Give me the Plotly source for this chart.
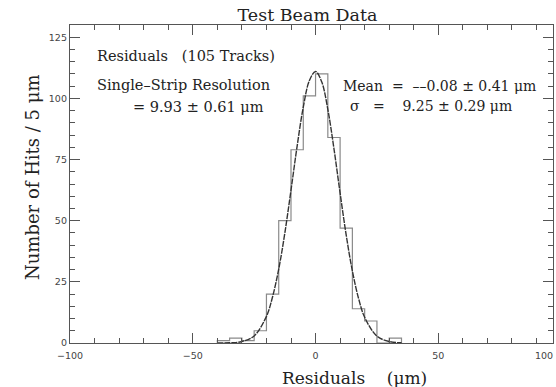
import plotly.graph_objects as go

# Histogram: 5 um bins, left edges
bin_left = [-40, -35, -30, -25, -20, -15, -10, -5, 0, 5, 10, 15, 20, 25, 30]
counts   = [1, 2, 1, 5, 20, 50, 79, 101, 110, 84, 47, 14, 9, 0, 2]
bin_width = 5

# Gaussian fit curve
fit_x = [-40, -35, -30, -25, -20, -17.5, -15, -12.5, -10, -7.5, -5, -2.5, 0,
         2.5, 5, 7.5, 10, 12.5, 15, 17.5, 20, 25, 30, 35]
fit_y = [0.0, 0.1, 0.6, 2.9, 10.9, 18.9, 30.2, 45.0, 62.5, 80.5, 96.4, 107.3, 111.0,
         106.8, 95.5, 79.4, 61.3, 44.0, 29.4, 18.3, 10.5, 2.8, 0.6, 0.1]

x_ticks = [-100, -50, 0, 50]
y_ticks = [0, 25, 50, 75, 100, 125]

step_x = [bin_left[0]] + bin_left + [bin_left[-1] + bin_width]
step_y = [0] + counts + [0]

fig = go.Figure()
fig.add_trace(go.Scatter(x=step_x, y=step_y, mode="lines", line_shape="hv",
                         line=dict(color="#8a8a8a", width=1.2), showlegend=False))
fig.add_trace(go.Scatter(x=fit_x, y=fit_y, mode="lines", line_shape="spline",
                         line=dict(color="#333333", width=1.4, dash="6px,1px"),
                         showlegend=False))

serif = "DejaVu Serif"
txt_l = dict(family=serif, size=14.5, color="#222222")
txt_r = dict(family=serif, size=14, color="#222222")

ann = [
    dict(x=-89.8, y=117.5, text="Residuals   (105 Tracks)", font=txt_l),
    dict(x=-89.8, y=105.6, text="Single\u2013Strip Resolution", font=txt_l),
    dict(x=-75.1, y=96.4, text="= 9.93 \u00b1 0.61 \u03bcm", font=txt_l),
    dict(x=10.4, y=105.2, text="Mean  =  \u2013\u20130.08 \u00b1 0.41 \u03bcm", font=txt_r),
    dict(x=13.2, y=96.7, text="\u03c3   =    9.25 \u00b1 0.29 \u03bcm", font=txt_r),
]
annotations = []
for a in ann:
    annotations.append(dict(xref="x", yref="y", x=a["x"], y=a["y"], text=a["text"],
                            showarrow=False, xanchor="left", yanchor="middle", font=a["font"]))
# 100 label at the right edge, kept inside the window
annotations.append(dict(xref="paper", yref="paper", x=(555 - 70) / 483, y=0, yshift=-12,
                        text="100", showarrow=False, xanchor="right", yanchor="middle",
                        font=dict(family="DejaVu Sans", size=9.5, color="#444444")))
# axis titles
annotations.append(dict(xref="paper", yref="paper", x=0.590, y=-0.110,
                        text="Residuals    (\u03bcm)", showarrow=False,
                        xanchor="center", yanchor="middle",
                        font=dict(family=serif, size=17, color="#222222")))
annotations.append(dict(xref="paper", yref="paper", x=-0.0787, y=0.522,
                        text="Number of Hits / 5 \u03bcm", showarrow=False, textangle=-90,
                        xanchor="center", yanchor="middle",
                        font=dict(family=serif, size=18, color="#222222")))

axis_common = dict(showgrid=False, zeroline=False, showline=True, linecolor="#555555",
                   linewidth=1.3, mirror="ticks", ticks="inside", ticklen=10,
                   tickcolor="#555555", tickwidth=1.2,
                   tickfont=dict(family="DejaVu Sans", size=9.5, color="#444444"))

fig.update_layout(
    width=556, height=387,
    margin=dict(l=70, r=3, t=25, b=44),
    paper_bgcolor="white", plot_bgcolor="white",
    title=dict(text="Test Beam Data", x=0.4917, xref="paper", y=1 - 15 / 387,
               yref="container", xanchor="center", yanchor="middle",
               font=dict(family=serif, size=17.5, color="#222222")),
    xaxis=dict(range=[-100, 96.7], tickvals=x_ticks, ticklabelstandoff=3, **axis_common,
               minor=dict(dtick=10, ticklen=5, ticks="inside", tickcolor="#555555")),
    yaxis=dict(range=[0, 130], tickvals=y_ticks, **axis_common,
               minor=dict(dtick=5, ticklen=5, ticks="inside", tickcolor="#555555")),
    annotations=annotations,
)

fig.write_html("out.html")
